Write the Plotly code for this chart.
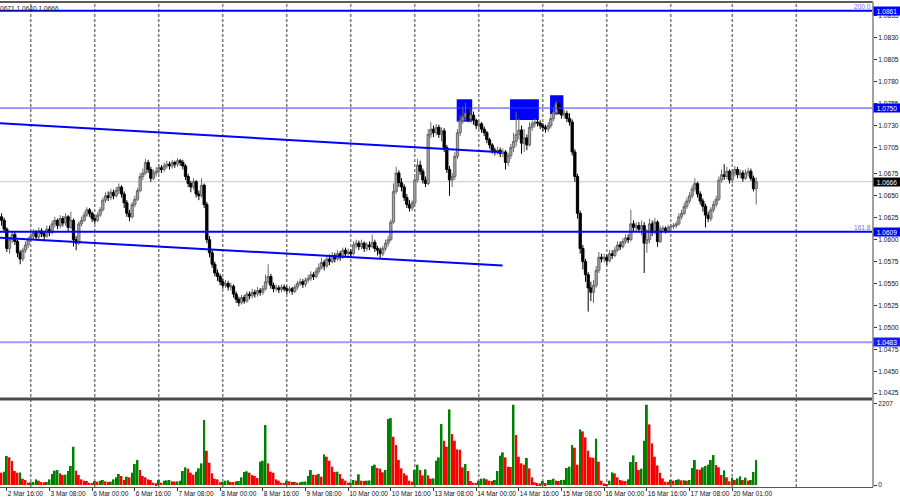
import plotly.graph_objects as go

# ---------------- data (hourly EURUSD bars; prices in 0.0001 above 1.0000) ----------------
OPEN_FIRST = 626
CLOSE = [622,612,590,600,606,598,585,578,588,594,
         600,604,608,603,610,607,604,612,608,618,
         622,616,624,619,626,614,622,600,596,618,
         622,628,634,630,624,622,628,634,645,650,
         648,654,650,656,660,652,642,630,626,640,
         646,656,672,676,688,680,670,676,678,682,
         680,684,686,684,688,686,690,688,684,672,
         664,660,666,652,650,662,640,600,585,572,
         562,558,552,548,550,546,547,538,532,528,
         534,530,538,536,540,538,542,540,544,552,
         558,548,544,545,543,546,544,542,544,541,
         546,550,552,549,554,556,560,558,564,568,
         574,570,578,575,582,578,584,580,588,584,
         586,584,594,596,592,596,590,594,592,597,
         590,588,584,590,596,600,620,655,676,665,
         660,648,640,636,642,668,685,678,668,664,
         720,726,722,728,720,724,705,680,668,672,
         695,722,736,740,744,738,742,736,730,732,
         726,722,714,708,702,700,702,698,700,688,
         696,705,712,720,725,710,716,708,728,732,
         734,733,730,728,726,730,738,745,755,748,
         742,744,738,734,700,672,630,590,575,560,
         545,540,548,565,580,578,580,576,584,582,
         588,594,592,598,602,600,618,614,616,612,
         616,596,600,618,608,620,598,612,613,610,
         614,615,616,618,626,630,638,644,650,658,
         664,652,644,638,628,624,634,640,646,668,
         674,672,678,668,676,680,674,676,670,676,
         678,670,658,666]
HIGH = [630,625,614,603,610,609,600,588,591,598,
        603,608,612,611,614,613,610,616,616,622,
        626,624,628,627,630,628,632,624,604,621,
        626,632,637,636,632,628,631,637,648,654,
        655,658,657,660,664,662,655,645,634,643,
        650,659,676,681,692,691,683,680,683,686,
        685,688,690,689,691,690,693,692,691,686,
        675,667,670,668,656,670,664,643,604,588,
        575,566,561,556,554,553,551,549,541,535,
        537,537,541,541,544,543,546,545,548,560,
        572,561,551,549,548,549,549,547,547,546,
        549,553,556,555,557,560,564,563,568,573,
        579,577,582,583,586,585,588,587,591,591,
        590,589,598,600,599,600,598,597,598,606,
        600,593,591,593,600,604,623,664,683,679,
        670,663,652,645,645,672,692,690,681,672,
        726,734,730,732,731,728,727,708,684,676,
        700,726,742,752,756,750,748,746,738,735,
        734,729,724,716,710,705,706,705,704,702,
        699,709,722,746,738,730,726,720,734,736,
        738,737,736,733,731,734,742,750,758,757,
        751,748,747,744,737,703,675,633,594,578,
        563,552,554,570,586,584,584,583,588,588,
        592,598,598,602,606,606,634,622,620,620,
        622,620,612,624,622,625,622,616,616,615,
        617,618,619,621,630,634,642,648,654,662,
        670,666,655,647,641,632,637,644,650,672,
        680,686,683,680,680,684,683,680,679,680,
        682,681,673,671]
LOW = [616,608,586,584,596,594,580,572,575,585,
       590,597,600,599,600,603,598,602,604,606,
       614,612,613,615,616,610,612,592,588,594,
       615,620,626,626,620,618,620,626,632,642,
       644,645,646,648,652,648,636,626,621,624,
       637,644,654,668,674,676,666,668,672,675,
       676,677,681,680,681,682,683,684,680,668,
       660,654,657,648,645,648,636,596,580,568,
       558,553,548,544,545,542,542,534,528,524,
       526,527,528,532,533,534,535,536,537,542,
       549,544,540,541,539,540,541,538,539,537,
       539,543,547,545,546,551,553,554,556,561,
       566,565,568,571,573,574,576,576,578,580,
       581,580,582,590,588,589,586,587,588,590,
       586,582,579,581,587,592,598,618,652,660,
       655,644,636,632,633,640,665,674,664,660,
       662,716,717,719,716,712,700,676,650,660,
       668,692,718,732,736,734,733,731,726,726,
       722,718,710,704,698,696,697,694,694,680,
       684,692,700,706,714,698,700,702,706,724,
       728,729,726,724,722,723,727,735,742,744,
       738,738,734,730,696,666,624,584,566,552,
       518,530,528,545,562,574,574,571,574,578,
       580,586,588,590,595,596,598,610,609,608,
       605,562,585,596,604,606,592,596,609,607,
       608,611,612,613,616,623,628,635,641,647,
       655,648,640,632,614,620,621,631,637,644,
       665,668,669,664,664,672,670,670,666,668,
       672,667,655,640]
VOLUME = [336,363,789,753,653,381,336,340,172,136,63,
          73,82,154,118,82,73,82,154,299,390,408,317,272,281,381,517,1043,390,272,154,118,110,63,55,
          109,91,118,136,100,82,91,154,209,299,245,136,227,209,336,571,680,408,245,209,154,136,63,50,
          136,63,118,127,136,100,95,100,118,381,481,444,336,281,363,454,590,1769,934,608,317,172,154,75,
          82,118,127,82,80,100,109,209,354,372,336,272,245,190,635,662,1633,590,363,336,154,118,63,55,
          118,100,82,85,63,73,91,95,245,408,281,275,299,227,834,771,662,499,354,363,299,172,118,63,
          70,136,118,290,118,109,118,125,517,553,463,444,345,408,1796,1823,1315,1088,680,454,317,263,118,90,
          408,553,408,263,426,263,172,180,662,753,1660,1206,1043,2059,1388,1206,970,960,481,571,381,109,63,55,
          118,172,181,154,118,110,136,381,798,889,753,499,490,2186,1361,771,590,553,735,454,209,73,54,45,
          109,54,136,140,172,118,110,136,140,463,499,1088,1016,553,1515,1460,1297,934,753,744,1261,635,118,45,
          27,118,345,317,209,136,118,110,154,626,807,626,408,444,1206,2186,1651,1134,771,535,336,181,91,82,
          136,118,136,154,127,130,118,136,463,680,426,420,481,517,553,680,816,544,481,272,399,209,100,
          200,136,181,236,136,200,118,136,354,680]

X_TICK_BARS = [2, 18, 34, 50, 66, 82, 98, 114, 130, 146, 162, 178, 194, 210, 226, 242, 258, 274]
X_TICK_TEXT = ["2 Mar 16:00", "3 Mar 08:00", "6 Mar 00:00", "6 Mar 16:00", "7 Mar 08:00",
               "8 Mar 00:00", "8 Mar 16:00", "9 Mar 08:00", "10 Mar 00:00", "10 Mar 16:00",
               "13 Mar 08:00", "14 Mar 00:00", "14 Mar 16:00", "15 Mar 08:00", "16 Mar 00:00",
               "16 Mar 16:00", "17 Mar 08:00", "20 Mar 01:00"]
DAY_GRID_BARS = [11, 35, 59, 83, 107, 131, 155, 179, 203, 227, 251, 274, 298]
PRICE_TICKS = [1.0855, 1.0830, 1.0805, 1.0780, 1.0755, 1.0730, 1.0705, 1.0675, 1.0650, 1.0625,
               1.0600, 1.0575, 1.0550, 1.0525, 1.0500, 1.0475, 1.0450, 1.0425]
VOLUME_TICKS = [0, 2207]
LEVELS = [1.0861, 1.0750, 1.0609, 1.0483]
LEVEL_TAGS = ["200.0", "", "161.8", ""]
LAST_PRICE = 1.0666
HEADER = "0671 1.0640 1.0666"
TRENDLINES = [((-0.6, 1.07327), (187.55, 1.06996)),
              ((-0.6, 1.06022), (187.9, 1.05705))]
ZONES = [(170.7, 176.5, 1.07345, 1.07600),
         (190.7, 201.5, 1.07364, 1.07600),
         (205.7, 210.7, 1.07429, 1.07646)]

# ---------------- build ----------------
FONT = "Liberation Sans"
FS = 6.6
n = len(CLOSE)
bars = list(range(n))


def px(v):
    return round(1 + v / 10000, 4)


close = [px(v) for v in CLOSE]
high = [px(v) for v in HIGH]
low = [px(v) for v in LOW]
open_ = [px(OPEN_FIRST)] + close[:-1]
vol_colors = ["#ff0000"] + ["#008000" if VOLUME[i] > VOLUME[i - 1] else "#ff0000" for i in range(1, n)]

fig = go.Figure()
fig.add_trace(go.Candlestick(
    x=bars, open=open_, high=high, low=low, close=close,
    xaxis="x", yaxis="y", whiskerwidth=0,
    increasing=dict(line=dict(color="#6a6a6a", width=1), fillcolor="#a6a6a6"),
    decreasing=dict(line=dict(color="#000000", width=1), fillcolor="#000000"),
    showlegend=False, hoverinfo="skip"))
fig.add_trace(go.Bar(
    x=bars, y=VOLUME, xaxis="x", yaxis="y2", width=0.72,
    marker=dict(color=vol_colors, line=dict(width=0)),
    showlegend=False, hoverinfo="skip"))

shapes = []
for b in DAY_GRID_BARS:
    shapes.append(dict(type="line", xref="x", yref="paper", x0=b, x1=b, y0=0, y1=1,
                       line=dict(color="#3c3c3c", width=1, dash="3px,2px"), layer="below"))
for x0, x1, y0, y1 in ZONES:
    shapes.append(dict(type="rect", xref="x", yref="y", x0=x0, x1=x1, y0=y0, y1=y1,
                       fillcolor="#0000ff", line=dict(width=0), layer="below"))
shapes.append(dict(type="line", xref="paper", yref="y", x0=0, x1=1, y0=LAST_PRICE, y1=LAST_PRICE,
                   line=dict(color="#c4c4c4", width=1), layer="below"))
level_style = [("#0000ff", 2), ("#3a3aff", 1), ("#0000ff", 2), ("#9a9aff", 2)]
for lv, (col, w) in zip(LEVELS, level_style):
    shapes.append(dict(type="line", xref="paper", yref="y", x0=0, x1=1, y0=lv, y1=lv,
                       line=dict(color=col, width=w), layer="above"))
for (xa, ya), (xb, yb) in TRENDLINES:
    shapes.append(dict(type="line", xref="x", yref="y", x0=xa, y0=ya, x1=xb, y1=yb,
                       line=dict(color="#0000ff", width=2), layer="above"))
# panel frame
shapes.append(dict(type="line", xref="paper", yref="paper", x0=0, x1=1, y0=0.1814, y1=0.1814,
                   line=dict(color="#4a4a4a", width=3)))
shapes.append(dict(type="line", xref="paper", yref="paper", x0=0, x1=1, y0=1, y1=1,
                   line=dict(color="#5a5a5a", width=2)))
shapes.append(dict(type="line", xref="paper", yref="paper", x0=1, x1=1, y0=0, y1=1,
                   line=dict(color="#a0a0a0", width=2)))

annotations = [dict(xref="paper", yref="paper", x=0, y=1, xanchor="left", yanchor="top",
                    yshift=-1, xshift=-2, showarrow=False, text=HEADER,
                    font=dict(family=FONT, size=FS, color="#222222"))]
for lv, tag in zip(LEVELS, LEVEL_TAGS):
    if tag:
        annotations.append(dict(xref="paper", yref="y", x=1, y=lv, xanchor="right", yanchor="bottom",
                                showarrow=False, text=tag, yshift=-1,
                                font=dict(family=FONT, size=FS, color="#7070ff")))
box_colors = ["#0000ff", "#0000ff", "#0000ff", "#1a1aff"]
for lv, bc in zip(LEVELS, box_colors):
    annotations.append(dict(xref="paper", yref="y", x=1, y=lv, xanchor="left", yanchor="middle",
                            showarrow=False, text=f"{lv:.4f}", bgcolor=bc, borderpad=0,
                            width=26, height=8, align="center",
                            font=dict(family=FONT, size=FS, color="#ffffff")))
annotations.append(dict(xref="paper", yref="y", x=1, y=LAST_PRICE, xanchor="left", yanchor="middle",
                        showarrow=False, text=f"{LAST_PRICE:.4f}", bgcolor="#000000", borderpad=0,
                        width=26, height=8, align="center",
                        font=dict(family=FONT, size=FS, color="#ffffff")))

tickfont = dict(family=FONT, size=FS, color="#111111")
fig.update_layout(
    width=900, height=500,
    margin=dict(l=0, r=27, t=2, b=13),
    paper_bgcolor="#ffffff", plot_bgcolor="#ffffff",
    showlegend=False, boxgap=0.15, boxgroupgap=0,
    xaxis=dict(range=[-0.56, 326.8], anchor="y2", tickmode="array", tickvals=X_TICK_BARS,
               ticktext=X_TICK_TEXT, ticks="outside", ticklen=3, tickcolor="#333333",
               ticklabelposition="outside right", tickangle=0, tickfont=tickfont, showgrid=False,
               zeroline=False, showline=True, linecolor="#555555", linewidth=1,
               rangeslider=dict(visible=False), automargin=False),
    yaxis=dict(domain=[0.1835, 1], range=[1.04195, 1.08709], side="right", anchor="x",
               tickmode="array", tickvals=PRICE_TICKS, ticktext=[f"{v:.4f}" for v in PRICE_TICKS],
               ticks="outside", ticklen=3, tickcolor="#333333", tickfont=tickfont,
               showgrid=False, zeroline=False, showline=False, automargin=False),
    yaxis2=dict(domain=[0, 0.1794], range=[-54.5, 2316], side="right", anchor="x",
                tickmode="array", tickvals=VOLUME_TICKS, ticktext=[str(v) for v in VOLUME_TICKS],
                ticks="outside", ticklen=3, tickcolor="#333333", tickfont=tickfont,
                showgrid=False, zeroline=False, showline=False, automargin=False),
    shapes=shapes, annotations=annotations,
)
fig.write_html("out.html", config={"displayModeBar": False},
               post_script="document.body.style.margin='0px';document.body.style.overflow='hidden';")
